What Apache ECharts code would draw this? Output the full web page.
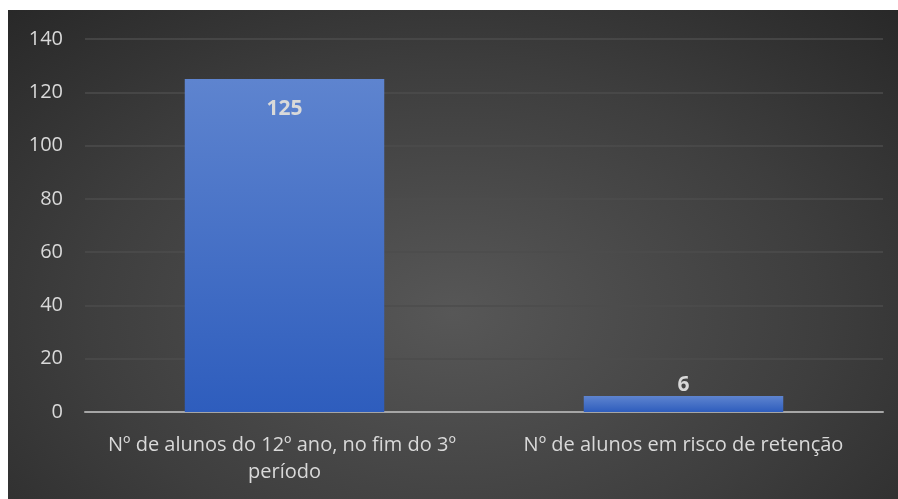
<!DOCTYPE html>
<html>
<head>
<meta charset="utf-8">
<script src="https://cdn.jsdelivr.net/npm/echarts@6/dist/echarts.min.js"></script>
<style>
html,body{margin:0;padding:0;background:#fff;}
#wrap{position:absolute;left:8px;top:10px;width:890px;height:489px;
background:radial-gradient(ellipse 75% 90% at 50% 62%, #575757 0%, #3e3e3e 55%, #262626 100%);}
#chart{width:890px;height:489px;}
</style>
</head>
<body>
<div id="wrap"><div id="chart"></div></div>
<script>
const categories = ["Nº de alunos do 12º ano, no fim do 3º período", "Nº de alunos em risco de retenção"];
const values = [125, 6];
const yTicks = { min: 0, max: 140, interval: 20 };

const chart = echarts.init(document.getElementById('chart'));
const barColor = new echarts.graphic.LinearGradient(0, 0, 0, 1, [
  { offset: 0, color: '#5e84cf' },
  { offset: 1, color: '#2e5dbd' }
]);
chart.setOption({
  backgroundColor: 'transparent',
  animation: false,
  grid: { left: 77, right: 15, top: 29, bottom: 87 },
  xAxis: {
    type: 'category',
    data: categories,
    axisLine: { lineStyle: { color: '#a6a6a6', width: 2 } },
    axisTick: { show: false },
    axisLabel: {
      interval: 0,
      color: '#d9d9d9', fontSize: 20, fontFamily: 'Open Sans', margin: 20,
      width: 392, overflow: 'break', lineHeight: 27
    }
  },
  yAxis: {
    type: 'value',
    min: yTicks.min, max: yTicks.max, interval: yTicks.interval,
    axisLine: { show: false },
    axisTick: { show: false },
    splitLine: { lineStyle: { color: '#4d4d4d', width: 1.5 } },
    axisLabel: { color: '#d9d9d9', fontSize: 20, fontFamily: 'Open Sans', margin: 22 }
  },
  series: [{
    type: 'bar',
    data: values.map((v, i) => ({
      value: v,
      label: i === 0
        ? { show: true, position: 'insideTop', distance: 20 }
        : { show: true, position: 'top', distance: 0 }
    })),
    barWidth: '50%',
    itemStyle: { color: barColor },
    label: { color: '#d9d9d9', fontSize: 21, fontWeight: 'bold', fontFamily: 'Open Sans' }
  }]
});
</script>
</body>
</html>
